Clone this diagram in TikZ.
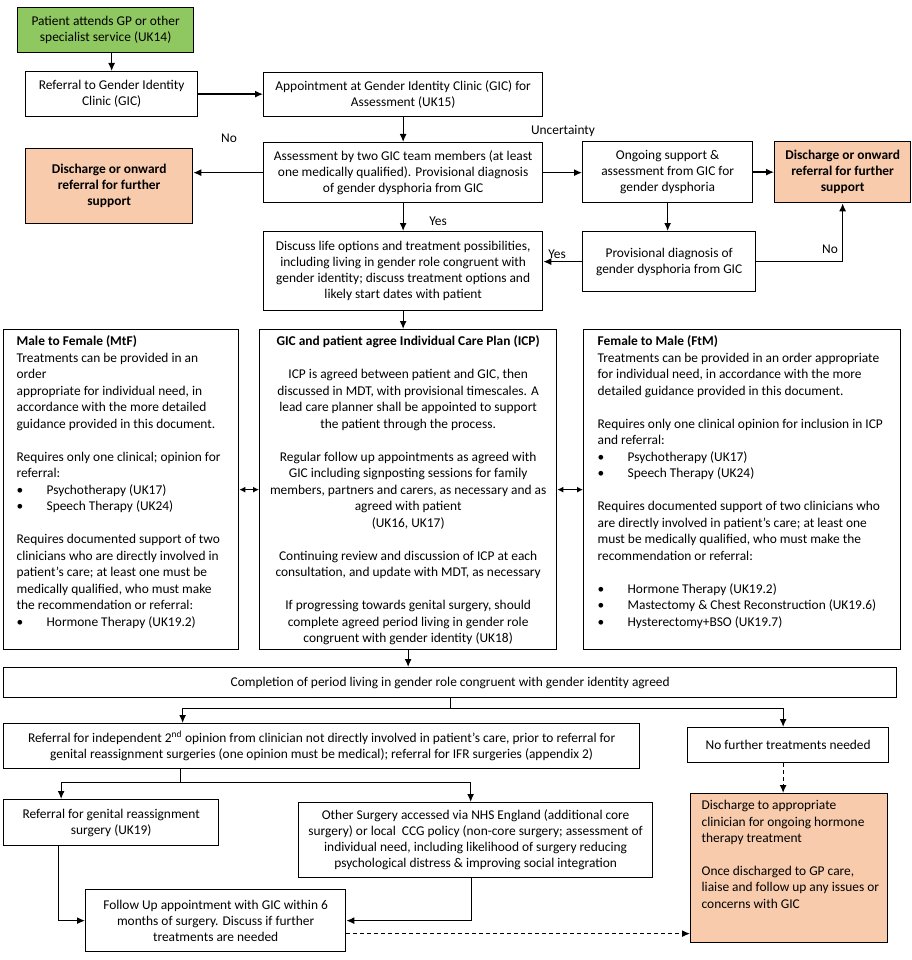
\documentclass[tikz,border=0pt]{standalone}
\usepackage{fontspec}
\setmainfont{Carlito}
\usetikzlibrary{arrows.meta}
\definecolor{startgreen}{RGB}{143,199,96}
\definecolor{exitorange}{RGB}{248,203,173}
\newcommand{\bulitem}{\makebox[30pt][l]{\textbullet}}

\begin{document}
\begin{tikzpicture}[x=1pt,y=-1pt,line width=1.3pt,
	box/.style={draw,anchor=north west,align=center,inner sep=2pt,font=\fontsize{13.4}{16}\selectfont},
	exitbox/.style={box,fill=exitorange,font=\fontsize{13.4}{16}\selectfont\bfseries},
	textbox/.style={draw,anchor=north west,inner xsep=0pt,inner ysep=6pt,font=\fontsize{13.4}{16.5}\selectfont},
	lbl/.style={font=\fontsize{13.4}{15}\selectfont},
	>={Latex[length=8pt,width=7pt]}]
\useasboundingbox (0,0) rectangle (911,960);

% referral and assessment
\node[box,fill=startgreen,minimum width=176pt,minimum height=45pt] (patient) at (17,7) {Patient attends GP or other\\specialist service (UK14)};
\node[box,minimum width=172pt,minimum height=45pt] (referral) at (25,71) {Referral to Gender Identity\\Clinic (GIC)};
\node[box,minimum width=279pt,minimum height=44pt] (appoint) at (263,72) {Appointment at Gender Identity Clinic (GIC) for\\Assessment (UK15)};
\node[box,minimum width=279pt,minimum height=60pt] (assess) at (263,142) {Assessment by two GIC team members (at least\\one medically qualified). Provisional diagnosis\\of gender dysphoria from GIC};
\node[exitbox,minimum width=167pt,minimum height=75pt] (dischleft) at (25,148) {Discharge or onward\\referral for further\\support};
\node[box,minimum width=170pt,minimum height=61pt] (ongoing) at (582,141) {Ongoing support \&\\assessment from GIC for\\gender dysphoria};
\node[exitbox,minimum width=136pt,minimum height=61pt] (dischright) at (774,141) {Discharge or onward\\referral for further\\support};
\node[box,minimum width=173pt,minimum height=60pt] (provdiag) at (582,231) {Provisional diagnosis of\\gender dysphoria from GIC};
\node[box,minimum width=279pt,minimum height=79pt] (discuss) at (263,231) {Discuss life options and treatment possibilities,\\including living in gender role congruent with\\gender identity; discuss treatment options and\\likely start dates with patient};

\node[lbl] (nolbl) at (229,138) {No};
\node[lbl] (uncertlbl) at (563,131) {Uncertainty};
\node[lbl] (yeslbl) at (438,221) {Yes};
\node[lbl] (yesprov) at (557,254) {Yes};
\node[lbl] (noprov) at (830,249) {No};

% care plan
\node[textbox] (mtf) at (3,329) {\parbox[c][308pt][t]{235pt}{\raggedright\leftskip=13pt
	\textbf{Male to Female (MtF)}\\
	Treatments can be provided in an\\
	order\\
	appropriate for individual need, in\\
	accordance with the more detailed\\
	guidance provided in this document.\\[16.5pt]
	Requires only one clinical; opinion for\\
	referral:\\
	\bulitem Psychotherapy (UK17)\\
	\bulitem Speech Therapy (UK24)\\[16.5pt]
	Requires documented support of two\\
	clinicians who are directly involved in\\
	patient's care; at least one must be\\
	medically qualified, who must make\\
	the recommendation or referral:\\
	\bulitem Hormone Therapy (UK19.2)}};
\node[textbox] (icp) at (259,329) {\parbox[c][308pt][t]{297pt}{\centering
	\textbf{GIC and patient agree Individual Care Plan (ICP)}\\[16.5pt]
	ICP is agreed between patient and GIC, then\\
	discussed in MDT, with provisional timescales. A\\
	lead care planner shall be appointed to support\\
	the patient through the process.\\[16.5pt]
	Regular follow up appointments as agreed with\\
	GIC including signposting sessions for family\\
	members, partners and carers, as necessary and as\\
	agreed with patient\\
	(UK16, UK17)\\[16.5pt]
	Continuing review and discussion of ICP at each\\
	consultation, and update with MDT, as necessary\\[16.5pt]
	If progressing towards genital surgery, should\\
	complete agreed period living in gender role\\
	congruent with gender identity (UK18)}};
\node[textbox] (ftm) at (583,329) {\parbox[c][308pt][t]{317pt}{\raggedright\leftskip=14pt
	\textbf{Female to Male (FtM)}\\
	Treatments can be provided in an order appropriate\\
	for individual need, in accordance with the more\\
	detailed guidance provided in this document.\\[16.5pt]
	Requires only one clinical opinion for inclusion in ICP\\
	and referral:\\
	\bulitem Psychotherapy (UK17)\\
	\bulitem Speech Therapy (UK24)\\[16.5pt]
	Requires documented support of two clinicians who\\
	are directly involved in patient's care; at least one\\
	must be medically qualified, who must make the\\
	recommendation or referral:\\[16.5pt]
	\bulitem Hormone Therapy (UK19.2)\\
	\bulitem Mastectomy \& Chest Reconstruction (UK19.6)\\
	\bulitem Hysterectomy+BSO (UK19.7)}};

% surgery and discharge
\node[box,minimum width=893pt,minimum height=30pt] (complete) at (3,667) {Completion of period living in gender role congruent with gender identity agreed};
\node[box,minimum width=636pt,minimum height=45pt] (second) at (3,723) {Referral for independent 2\textsuperscript{nd} opinion from clinician not directly involved in patient’s care, prior to referral for\\genital reassignment surgeries (one opinion must be medical); referral for IFR surgeries (appendix 2)};
\node[box,minimum width=201pt,minimum height=35pt] (nofurther) at (687,727) {No further treatments needed};
\node[box,minimum width=215pt,minimum height=46pt] (genital) at (3,799) {Referral for genital reassignment\\surgery (UK19)};
\node[box,minimum width=354pt,minimum height=75pt] (other) at (298,802) {Other Surgery accessed via NHS England (additional core\\surgery) or local~ CCG policy (non-core surgery; assessment of\\individual need, including likelihood of surgery reducing\\psychological distress \& improving social integration};
\node[box,minimum width=260pt,minimum height=62pt] (follow) at (85,889) {Follow Up appointment with GIC within 6\\months of surgery. Discuss if further\\treatments are needed};
\node[textbox,fill=exitorange,inner ysep=7pt] (dischbottom) at (690,793) {\parbox[c][135pt][t]{197pt}{\raggedright\leftskip=11pt
	Discharge to appropriate\\
	clinician for ongoing hormone\\
	therapy treatment\\[16pt]
	Once discharged to GP care,\\
	liaise and follow up any issues or\\
	concerns with GIC}};

\draw[->] (patient.south -| referral.north) -- (referral.north);
\draw[->] (referral.east) -- (referral.east -| appoint.west);
\draw[->] (appoint.south) -- (assess.north);
\draw[->] (assess.west) -- (assess.west -| dischleft.east);
\draw[->] (assess.east) -- (assess.east -| ongoing.west);
\draw[->] (ongoing.east) -- (ongoing.east -| dischright.west);
\draw[->] (ongoing.south) -- (ongoing.south |- provdiag.north);
\draw[->] (provdiag.east) -| (dischright.south);
\draw[->] (provdiag.west) -- (provdiag.west -| discuss.east);
\draw[->] (assess.south) -- (discuss.north);
\draw[->] (discuss.south) -- (discuss.south |- icp.north);
\draw[<->,>={Latex[length=6pt,width=6pt]}] (mtf.east) -- (icp.west);
\draw[<->,>={Latex[length=6pt,width=6pt]}] (icp.east) -- (ftm.west);
\draw[->] (icp.south) -- (icp.south |- complete.north);

\draw (complete.south) -- ++(0,10) coordinate (split1);
\draw[->] (split1) -| ([xshift=-139pt]second.north);
\draw[->] (split1) -| ([xshift=-5pt]nofurther.north);
\draw ([xshift=-141pt]second.south) -- ++(0,13) coordinate (split2);
\draw[->] (split2) -| ([xshift=-50pt]genital.north);
\draw[->] (split2) -| ([xshift=-5pt]other.north);
\draw[->] ([xshift=-53pt]genital.south) |- (follow.west);
\draw[->] ([xshift=-4pt]other.south) |- (follow.east);
\draw[->,dash pattern=on 4pt off 3pt] ([yshift=-13pt]follow.east) coordinate (fu) -- (fu -| dischbottom.west);
\draw[->,dash pattern=on 4pt off 3pt] ([xshift=-5pt]nofurther.south) coordinate (nf) -- (nf |- dischbottom.north);
\end{tikzpicture}
\end{document}
